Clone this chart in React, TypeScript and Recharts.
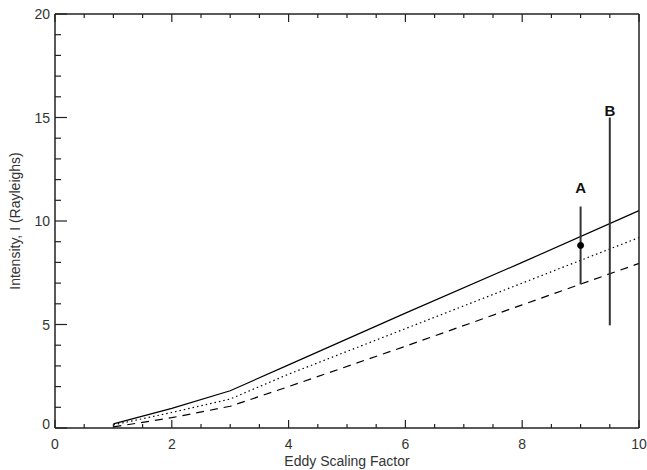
import React from 'react';
import { ComposedChart, Line, XAxis, YAxis, ReferenceLine, ReferenceDot, Scatter } from 'recharts';

const xs = [1, 2, 3, 4, 6, 8, 10];
const solid = [0.2, 0.95, 1.8, 3.05, 5.55, 8.0, 10.5];
const dotted = [0.15, 0.75, 1.4, 2.6, 4.8, 7.0, 9.2];
const dashed = [0.05, 0.5, 1.05, 2.0, 3.95, 5.95, 7.95];

const barNames = ['A', 'B'];
const barX = [9, 9.5];
const barLow = [6.94, 4.96];
const barHigh = [10.7, 15.0];
const labelY = [11.35, 15.05];
const pointA = { x: 9, y: 8.82 };

const xTicks = [0, 0.5, 1, 1.5, 2, 2.5, 3, 3.5, 4, 4.5, 5, 5.5, 6, 6.5, 7, 7.5, 8, 8.5, 9, 9.5, 10];
const xMajor = [0, 2, 4, 6, 8, 10];
const yTicks = [0, 1, 2, 3, 4, 5, 6, 7, 8, 9, 10, 11, 12, 13, 14, 15, 16, 17, 18, 19, 20];
const yMajor = [0, 5, 10, 15, 20];

const data = xs.map((x, i) => ({ x, s: solid[i], d: dotted[i], k: dashed[i] }));
const labelPts = barNames.map((n, i) => ({ x: barX[i], y: labelY[i], name: n }));

const FONT = '"Liberation Sans", Arial, sans-serif';
const AX = '#222';
const TXT = '#333';

const BottomTick = (p: any) => {
  const v = p.payload.value;
  const major = xMajor.includes(v);
  return (
    <g>
      <line x1={p.x} y1={p.y} x2={p.x} y2={p.y - (major ? 8 : 4)} stroke={AX} strokeWidth={1.2} />
      {major && (
        <text x={p.x} y={p.y + 21} textAnchor="middle" fontSize={14} fontFamily={FONT} fill={TXT}>{v}</text>
      )}
    </g>
  );
};
const TopTick = (p: any) => {
  const v = p.payload.value;
  const major = xMajor.includes(v);
  return <line x1={p.x} y1={p.y} x2={p.x} y2={p.y + (major ? 8 : 4)} stroke={AX} strokeWidth={1.2} />;
};
const LeftTick = (p: any) => {
  const v = p.payload.value;
  const major = yMajor.includes(v);
  return (
    <g>
      <line x1={p.x} y1={p.y} x2={p.x + (major ? 12 : 6)} y2={p.y} stroke={AX} strokeWidth={1.2} />
      {major && (
        <text x={p.x - 5} y={v === 0 ? p.y - 4 : p.y} dy="0.36em" textAnchor="end" fontSize={14} fontFamily={FONT} fill={TXT}>{v}</text>
      )}
    </g>
  );
};
const RightTick = (p: any) => {
  const v = p.payload.value;
  const major = yMajor.includes(v);
  return <line x1={p.x} y1={p.y} x2={p.x - (major ? 12 : 6)} y2={p.y} stroke={AX} strokeWidth={1.2} />;
};

const LetterShape = (p: any) => (
  <text x={p.cx} y={p.cy} textAnchor="middle" fontSize={15} fontWeight="bold" fontFamily={FONT} fill="#111">{p.payload.name}</text>
);

export default function App() {
  return (
    <div style={{ width: 647, height: 470 }}>
      <style>{'body{margin:0;overflow:hidden}'}</style>
      <ComposedChart width={647} height={470} data={data} margin={{ top: 13, right: 7, bottom: 12, left: 15 }}>
        <XAxis
          xAxisId="b" dataKey="x" type="number" domain={[0, 10]} ticks={xTicks} interval={0}
          tickSize={0} tickMargin={0} tick={<BottomTick />} tickLine={false}
          axisLine={{ stroke: AX, strokeWidth: 1.5 }} height={30}
          label={{
            content: (lp: any) => {
              const vb = lp.viewBox;
              return (
                <text x={vb.x + vb.width / 2} y={vb.y + 38} textAnchor="middle" fontSize={14} fontFamily={FONT} fill={TXT}>Eddy Scaling Factor</text>
              );
            },
          }}
        />
        <XAxis
          xAxisId="t" orientation="top" dataKey="x" type="number" domain={[0, 10]} ticks={xTicks} interval={0}
          tickSize={0} tickMargin={0} tick={<TopTick />} tickLine={false}
          axisLine={{ stroke: AX, strokeWidth: 1.5 }} height={1}
        />
        <YAxis
          yAxisId="l" type="number" domain={[0, 20]} ticks={yTicks} interval={0}
          tickSize={0} tickMargin={0} tick={<LeftTick />} tickLine={false}
          axisLine={{ stroke: AX, strokeWidth: 1.5 }} width={40}
          label={{
            content: (lp: any) => {
              const vb = lp.viewBox;
              const cx = 15;
              const cy = vb.y + vb.height / 2;
              return (
                <text x={cx} y={cy} transform={`rotate(-90 ${cx} ${cy})`} dy="0.36em" textAnchor="middle" fontSize={14} fontFamily={FONT} fill={TXT}>Intensity, I (Rayleighs)</text>
              );
            },
          }}
        />
        <YAxis
          yAxisId="r" orientation="right" type="number" domain={[0, 20]} ticks={yTicks} interval={0}
          tickSize={0} tickMargin={0} tick={<RightTick />} tickLine={false}
          axisLine={{ stroke: AX, strokeWidth: 1.5 }} width={1}
        />
        <Line xAxisId="b" yAxisId="l" type="linear" dataKey="s" stroke="#000" strokeWidth={1.2} dot={false} isAnimationActive={false} />
        <Line xAxisId="b" yAxisId="l" type="linear" dataKey="d" stroke="#000" strokeWidth={1.2} strokeDasharray="1.5 3" dot={false} isAnimationActive={false} />
        <Line xAxisId="b" yAxisId="l" type="linear" dataKey="k" stroke="#000" strokeWidth={1.2} strokeDasharray="8 6" dot={false} isAnimationActive={false} />
        {barNames.map((n, i) => (
          <ReferenceLine
            key={n} xAxisId="b" yAxisId="l"
            segment={[{ x: barX[i], y: barLow[i] }, { x: barX[i], y: barHigh[i] }]}
            stroke="#333" strokeWidth={2}
          />
        ))}
        <ReferenceDot xAxisId="b" yAxisId="l" x={pointA.x} y={pointA.y} r={3} fill="#000" stroke="#000" />
        <Scatter xAxisId="b" yAxisId="l" data={labelPts} dataKey="y" shape={<LetterShape />} isAnimationActive={false} />
      </ComposedChart>
    </div>
  );
}
